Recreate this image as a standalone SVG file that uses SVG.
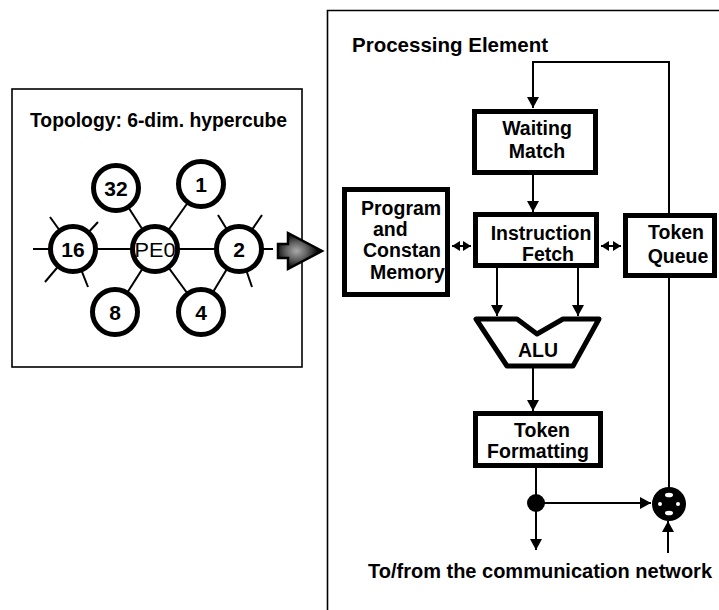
<svg xmlns="http://www.w3.org/2000/svg" width="719" height="610" viewBox="0 0 719 610">
<defs>
<style>
text{font-family:"Liberation Sans",Arial,sans-serif;font-weight:bold;fill:#000}
.t{font-size:19.5px}
.h{font-size:20.5px}
.c{text-anchor:middle}
.box{fill:#fff;stroke:#000;stroke-width:5}
.frame{fill:none;stroke:#000;stroke-width:1.6}
.ln{fill:none;stroke:#000;stroke-width:2}
.node{fill:#fff;stroke:#000;stroke-width:5}
.edge{stroke:#000;stroke-width:2;fill:none}
.num{font-size:21px;text-anchor:middle}
</style>
<marker id="ah" markerUnits="userSpaceOnUse" markerWidth="13" markerHeight="13" refX="11" refY="6" orient="auto-start-reverse">
<path d="M0,0 L11,6 L0,12 Z" fill="#000"/>
</marker>
<marker id="sh" markerUnits="userSpaceOnUse" markerWidth="9" markerHeight="10" refX="8" refY="5" orient="auto-start-reverse">
<path d="M0,0 L8,5 L0,10 Z" fill="#000"/>
</marker>
<radialGradient id="g" cx="0.42" cy="0.5" r="0.5">
<stop offset="0" stop-color="#aaa"/>
<stop offset="0.45" stop-color="#666"/>
<stop offset="1" stop-color="#000"/>
</radialGradient>
</defs>

<!-- Left frame: topology -->
<g id="topology">
<rect class="frame" x="12" y="89" width="290" height="278"/>
<text class="t" x="30" y="127" textLength="257" lengthAdjust="spacingAndGlyphs">Topology: 6-dim. hypercube</text>
<g id="edges-topo">
<line class="edge" x1="155" y1="249" x2="116" y2="188"/>
<line class="edge" x1="155" y1="249" x2="201" y2="184"/>
<line class="edge" x1="155" y1="249" x2="73" y2="249"/>
<line class="edge" x1="155" y1="249" x2="239" y2="249"/>
<line class="edge" x1="155" y1="249" x2="115" y2="312"/>
<line class="edge" x1="155" y1="249" x2="201" y2="312"/>
<line class="edge" x1="239" y1="249" x2="201" y2="312"/>
<line class="edge" x1="73" y1="249" x2="33" y2="249"/>
<line class="edge" x1="73" y1="249" x2="50" y2="217"/>
<line class="edge" x1="73" y1="249" x2="98" y2="222"/>
<line class="edge" x1="73" y1="249" x2="45" y2="282"/>
<line class="edge" x1="73" y1="249" x2="88" y2="287"/>
<line class="edge" x1="239" y1="249" x2="273" y2="249"/>
<line class="edge" x1="239" y1="249" x2="218" y2="215"/>
<line class="edge" x1="239" y1="249" x2="262" y2="215"/>
<line class="edge" x1="239" y1="249" x2="252" y2="287"/>
</g>
<g id="n32"><circle class="node" cx="116" cy="188" r="22.5"/><text class="num" x="116" y="196">32</text></g>
<g id="n1"><circle class="node" cx="201" cy="184" r="22.5"/><text class="num" x="201" y="192">1</text></g>
<g id="n16"><circle class="node" cx="73" cy="249" r="22.5"/><text class="num" x="73" y="257">16</text></g>
<g id="npe0"><circle class="node" cx="155" cy="249" r="22.5"/><text x="155" y="257" style="font-size:21px;font-weight:normal;text-anchor:middle" textLength="41" lengthAdjust="spacingAndGlyphs">PE0</text></g>
<g id="n2"><circle class="node" cx="239" cy="249" r="22.5"/><text class="num" x="239" y="257">2</text></g>
<g id="n8"><circle class="node" cx="115" cy="312" r="22.5"/><text class="num" x="115" y="320">8</text></g>
<g id="n4"><circle class="node" cx="201" cy="312" r="22.5"/><text class="num" x="201" y="320">4</text></g>
</g>

<!-- Big arrow -->
<g id="bigarrow">
<polygon points="278,244 288,244 288,233 322,251 288,269 288,258 278,258" fill="url(#g)" stroke="#000" stroke-width="2.5" stroke-linejoin="miter"/>
</g>

<!-- Right frame: processing element -->
<g id="pe-frame">
<path class="frame" d="M327.5,610 V10.5 H719"/>
<text class="h" x="352" y="52" textLength="196" lengthAdjust="spacingAndGlyphs">Processing Element</text>
</g>

<g id="connectors">
<path class="ln" d="M669,213 V62 H533 V108" marker-end="url(#ah)"/>
<line class="ln" x1="533" y1="175" x2="533" y2="212" marker-end="url(#ah)"/>
<line class="ln" x1="452" y1="246" x2="471" y2="246" marker-start="url(#sh)" marker-end="url(#sh)"/>
<line class="ln" x1="601" y1="246" x2="621" y2="246" marker-start="url(#sh)" marker-end="url(#sh)"/>
<line class="ln" x1="497" y1="268" x2="497" y2="316" marker-end="url(#ah)"/>
<line class="ln" x1="578" y1="268" x2="578" y2="316" marker-end="url(#ah)"/>
<line class="ln" x1="533" y1="367" x2="533" y2="411" marker-end="url(#ah)"/>
<line class="ln" x1="536" y1="468" x2="536" y2="550" marker-end="url(#ah)"/>
<line class="ln" x1="536" y1="503" x2="651" y2="503" marker-end="url(#ah)"/>
<line class="ln" x1="668" y1="553" x2="668" y2="521" marker-end="url(#ah)"/>
<line class="ln" x1="669" y1="488" x2="669" y2="278"/>
</g>

<g id="waiting-match">
<rect class="box" x="474.5" y="111.5" width="121" height="61"/>
<text class="t c" x="537" y="135">Waiting</text>
<text class="t c" x="537" y="158">Match</text>
</g>

<g id="instruction-fetch">
<rect class="box" x="475.5" y="214.5" width="121" height="51"/>
<text class="t c" x="541" y="240">Instruction</text>
<text class="t c" x="548" y="261">Fetch</text>
</g>

<g id="program-memory">
<rect class="box" x="344.5" y="189.5" width="103" height="105"/>
<text class="t" x="361" y="215">Program</text>
<text class="t" x="373" y="236">and</text>
<text class="t" x="363" y="257">Constan</text>
<text class="t" x="370" y="279">Memory</text>
</g>

<g id="token-queue">
<rect class="box" x="625.5" y="215.5" width="89" height="60"/>
<text class="t c" x="676" y="239">Token</text>
<text class="t c" x="678" y="263">Queue</text>
</g>

<g id="alu">
<polygon points="476,319 517,319 537,334 563,319 599,319 573,366 507,366" fill="#fff" stroke="#000" stroke-width="5" stroke-linejoin="round"/>
<text class="t c" x="538" y="357">ALU</text>
</g>

<g id="token-formatting">
<rect class="box" x="475.5" y="413.5" width="125" height="52"/>
<text class="t c" x="542" y="437">Token</text>
<text class="t c" x="538" y="458">Formatting</text>
</g>

<g id="junction">
<circle cx="536" cy="503" r="9" fill="#000"/>
</g>

<g id="merge">
<circle cx="669" cy="504" r="17" fill="#000"/>
<ellipse cx="669" cy="495" rx="4" ry="2.3" fill="#fff"/>
<ellipse cx="669" cy="513" rx="4" ry="2.3" fill="#fff"/>
<circle cx="660" cy="504" r="2" fill="#fff"/>
<circle cx="678" cy="504" r="2" fill="#fff"/>
</g>

<g id="network-label">
<text x="368" y="578" style="font-size:19.8px" textLength="344" lengthAdjust="spacingAndGlyphs">To/from the communication network</text>
</g>
</svg>
